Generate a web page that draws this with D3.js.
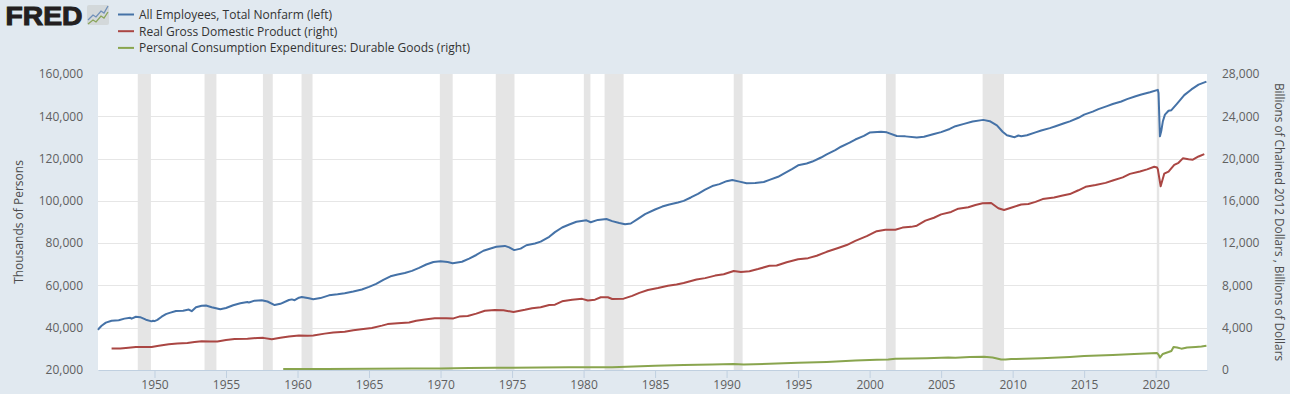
<!DOCTYPE html>
<html><head><meta charset="utf-8">
<script src="https://cdnjs.cloudflare.com/ajax/libs/d3/7.8.5/d3.min.js"></script>
<style>html,body{margin:0;padding:0;background:#e1e9f0}svg{display:block}text{font-family:"Open Sans",sans-serif}</style>
</head><body><svg id="c" width="1290" height="394"></svg>
<script>
const seriesNames=["All Employees, Total Nonfarm (left)","Real Gross Domestic Product (right)","Personal Consumption Expenditures: Durable Goods (right)"];
const seriesColors=["#4572a7","#aa4643","#89a54e"];
const leftTicks=[20000,40000,60000,80000,100000,120000,140000,160000];
const rightTicks=[0,4000,8000,12000,16000,20000,24000,28000];
const xTicks=[1950,1955,1960,1965,1970,1975,1980,1985,1990,1995,2000,2005,2010,2015,2020];
const recessions=[[1948.83,1949.75],[1953.5,1954.33],[1957.58,1958.27],[1960.28,1961.05],[1969.95,1970.85],[1973.86,1975.17],[1980.02,1980.48],[1981.47,1982.8],[1990.5,1991.12],[2001.14,2001.82],[2007.9,2009.4],[2020.08,2020.25]];
const employees=[[1946.05,39000],[1946.15,39900],[1946.3,40900],[1946.6,42400],[1947,43300],[1947.5,43500],[1947.9,44300],[1948.3,44700],[1948.4,44300],[1948.7,45200],[1949,45000],[1949.4,43800],[1949.8,43000],[1949.9,43300],[1950,43100],[1950.2,43700],[1950.5,45200],[1950.8,46400],[1951,46900],[1951.5,47900],[1952,48000],[1952.4,48600],[1952.6,47800],[1952.9,49700],[1953.3,50400],[1953.6,50500],[1954,49700],[1954.6,48700],[1955,49300],[1955.5,50600],[1956,51600],[1956.5,52200],[1956.6,51900],[1957,52800],[1957.5,53000],[1957.9,52400],[1958.4,50700],[1958.8,51300],[1959.4,53100],[1959.6,53400],[1959.8,53000],[1960.1,54200],[1960.3,54500],[1960.8,53900],[1961.1,53500],[1961.6,54000],[1962.2,55300],[1962.8,55800],[1963.3,56300],[1963.9,57100],[1964.5,58100],[1965,59300],[1965.5,60700],[1966,62600],[1966.5,64300],[1967,65200],[1967.5,65900],[1968,66900],[1968.5,68300],[1969,69900],[1969.5,71100],[1970,71400],[1970.5,71100],[1970.85,70500],[1971.5,71200],[1972,72700],[1972.5,74400],[1973,76400],[1973.5,77500],[1973.9,78300],[1974.5,78700],[1974.8,78000],[1975.15,76700],[1975.6,77400],[1976,79000],[1976.6,79800],[1977,80700],[1977.6,83000],[1978,85200],[1978.5,87400],[1979,88800],[1979.5,90100],[1980.2,90800],[1980.5,89900],[1981,91000],[1981.6,91400],[1982,90400],[1982.5,89500],[1982.9,88900],[1983.3,89300],[1983.8,91500],[1984.3,93700],[1985,95900],[1985.5,97300],[1986,98300],[1986.6,99200],[1987,100000],[1987.5,101600],[1988,103300],[1988.5,105300],[1989,107000],[1989.5,107900],[1990,109300],[1990.4,109900],[1990.9,109100],[1991.4,108300],[1992,108400],[1992.6,108900],[1993,109900],[1993.6,111400],[1994,112900],[1994.6,115100],[1995,116800],[1995.6,117700],[1996,118600],[1996.6,120500],[1997,122000],[1997.6,124000],[1998,125600],[1998.6,127500],[1999,129000],[1999.6,130700],[2000,132300],[2000.8,132700],[2001.2,132400],[2001.9,130700],[2002.5,130500],[2003.3,130000],[2003.8,130300],[2004.5,131600],[2005,132500],[2005.6,134000],[2006,135300],[2006.6,136400],[2007.2,137500],[2007.95,138300],[2008.4,137700],[2008.9,135700],[2009.3,132700],[2009.6,131000],[2010,130300],[2010.15,130100],[2010.4,130900],[2010.6,130600],[2011,131000],[2011.6,132400],[2012,133300],[2012.6,134400],[2013,135300],[2013.6,136700],[2014,137600],[2014.6,139300],[2015,140800],[2015.6,142200],[2016,143400],[2016.6,144800],[2017,145800],[2017.6,147000],[2018,148100],[2018.6,149500],[2019,150300],[2019.6,151400],[2020.15,152500],[2020.2,151000],[2020.3,130500],[2020.4,133300],[2020.5,137500],[2020.65,140800],[2020.9,142600],[2021.1,142900],[2021.5,146000],[2022,150000],[2022.5,152700],[2023,155000],[2023.55,156400]];
const gdp=[[1947,2030],[1947.6,2030],[1948,2090],[1948.7,2180],[1949.2,2170],[1949.8,2170],[1950.3,2300],[1951,2440],[1951.6,2510],[1952.3,2560],[1952.8,2640],[1953.3,2730],[1953.9,2700],[1954.4,2690],[1955,2830],[1955.6,2930],[1956.5,2960],[1957.2,3030],[1957.6,3040],[1958.2,2900],[1958.8,3050],[1959.4,3170],[1960.1,3260],[1960.7,3250],[1961.1,3260],[1961.9,3440],[1962.5,3550],[1963.3,3620],[1963.9,3760],[1964.6,3880],[1965.2,3980],[1965.9,4200],[1966.3,4340],[1967,4430],[1967.8,4500],[1968.3,4660],[1968.9,4780],[1969.6,4890],[1970.4,4900],[1970.9,4880],[1971.3,5050],[1971.9,5100],[1972.5,5330],[1973.1,5610],[1973.8,5680],[1974.4,5650],[1975.1,5480],[1975.9,5690],[1976.4,5840],[1977,5930],[1977.6,6150],[1978,6180],[1978.5,6500],[1979.2,6640],[1979.9,6730],[1980.3,6580],[1980.8,6650],[1981.2,6880],[1981.7,6880],[1982,6720],[1982.8,6750],[1983.4,7010],[1983.9,7300],[1984.5,7570],[1985.2,7750],[1985.9,7970],[1986.5,8090],[1987,8230],[1987.9,8560],[1988.5,8690],[1989.2,8930],[1989.8,9060],[1990.5,9370],[1991,9260],[1991.6,9340],[1992.2,9550],[1993,9860],[1993.5,9880],[1994.2,10190],[1995,10470],[1995.7,10580],[1996.3,10810],[1997,11180],[1997.8,11540],[1998.4,11820],[1999,12210],[1999.8,12660],[2000.5,13130],[2001.1,13260],[2001.8,13270],[2002.3,13470],[2002.9,13540],[2003.3,13650],[2003.9,14130],[2004.5,14400],[2005,14720],[2005.7,14950],[2006.2,15260],[2006.9,15400],[2007.4,15610],[2007.9,15770],[2008.5,15800],[2009,15300],[2009.4,15140],[2010,15400],[2010.6,15650],[2011.1,15700],[2011.6,15900],[2012.1,16170],[2012.9,16310],[2013.5,16500],[2014,16640],[2014.6,17000],[2015.1,17330],[2015.8,17500],[2016.5,17700],[2017,17920],[2017.7,18220],[2018.2,18550],[2018.9,18780],[2019.4,18980],[2019.9,19220],[2020.1,19150],[2020.15,19000],[2020.35,17380],[2020.6,18570],[2020.9,18770],[2021.3,19400],[2021.6,19600],[2021.9,20020],[2022.3,19930],[2022.6,19890],[2023,20200],[2023.4,20420]];
const durables=[[1959,90],[1962,100],[1965,130],[1968,140],[1970,150],[1972,190],[1973.8,220],[1975,210],[1977,240],[1979,260],[1980.2,255],[1982,270],[1983,300],[1985,400],[1987,470],[1989,530],[1990.5,560],[1991.2,530],[1993,590],[1995,680],[1997,760],[1999,890],[2000.5,970],[2001.3,1000],[2001.8,1060],[2003,1080],[2004,1120],[2005.5,1190],[2006,1170],[2007,1240],[2008,1260],[2008.6,1180],[2009.2,990],[2009.5,990],[2009.9,1050],[2010.1,1030],[2012,1110],[2014,1230],[2015,1320],[2017,1430],[2018.5,1510],[2020.1,1600],[2020.2,1450],[2020.3,1170],[2020.5,1520],[2020.9,1700],[2021.1,1800],[2021.25,2180],[2021.5,2130],[2021.8,2020],[2022.2,2120],[2022.8,2180],[2023.2,2230],[2023.55,2290]];

const svg=d3.select("#c");
const W={l:98,r:1207,t:74,b:370};
const x=d3.scaleLinear().domain([1946.05,2023.59]).range([W.l,W.r]);
const yL=d3.scaleLinear().domain([20000,160000]).range([W.b,W.t]);
const yR=d3.scaleLinear().domain([0,28000]).range([W.b,W.t]);
const fmt=d3.format(",");
svg.append("rect").attr("x",W.l).attr("y",W.t).attr("width",W.r-W.l).attr("height",W.b-W.t).attr("fill","#fff");
svg.append("g").selectAll("line").data(leftTicks.slice(1,-1)).join("line")
 .attr("x1",W.l).attr("x2",W.r).attr("y1",d=>Math.round(yL(d))+.5).attr("y2",d=>Math.round(yL(d))+.5).attr("stroke","#e6e6e6").attr("stroke-width",1);
svg.append("g").selectAll("rect").data(recessions).join("rect")
 .attr("x",d=>x(d[0])).attr("width",d=>x(d[1])-x(d[0])).attr("y",W.t).attr("height",W.b-W.t).attr("fill","#e5e5e5");
const gx=svg.append("g").attr("transform",`translate(0,${W.b})`).call(d3.axisBottom(x).tickValues(xTicks).tickFormat(d3.format("d")).tickSize(0).tickPadding(10));
gx.select(".domain").attr("stroke","#c0d0e0");
gx.selectAll("text").attr("font-size",12).attr("fill","#606060");
gx.selectAll(".tick").append("line").attr("y1",0).attr("y2",8).attr("stroke","#c0d0e0");
const gl=svg.append("g").attr("transform",`translate(${W.l},0)`).call(d3.axisLeft(yL).tickValues(leftTicks).tickFormat(fmt).tickSize(0).tickPadding(15));
gl.select(".domain").remove();gl.selectAll("text").attr("font-size",12).attr("fill","#606060");
const gr=svg.append("g").attr("transform",`translate(${W.r},0)`).call(d3.axisRight(yR).tickValues(rightTicks).tickFormat(fmt).tickSize(0).tickPadding(15));
gr.select(".domain").remove();gr.selectAll("text").attr("font-size",12).attr("fill","#606060");
const lineL=d3.line().x(d=>x(d[0])).y(d=>yL(d[1]));
const lineR=d3.line().x(d=>x(d[0])).y(d=>yR(d[1]));
const ln=(data,gen,c)=>svg.append("path").attr("d",gen(data)).attr("fill","none").attr("stroke",c).attr("stroke-width",2).attr("stroke-linejoin","round");
ln(employees,lineL,seriesColors[0]);
ln(gdp,lineR,seriesColors[1]);
ln(durables,lineR,seriesColors[2]);
svg.append("text").attr("transform","translate(23,222) rotate(-90)").attr("text-anchor","middle").attr("font-size",12).attr("fill","#4d4d4d").text("Thousands of Persons");
svg.append("text").attr("transform","translate(1274.5,222) rotate(90)").attr("text-anchor","middle").attr("font-size",11.8).attr("fill","#4d4d4d").text("Billions of Chained 2012 Dollars , Billions of Dollars");
const lg=svg.append("g").selectAll("g").data(seriesNames).join("g").attr("transform",(d,i)=>`translate(118,${14.5+i*16.7})`);
lg.append("line").attr("x1",0).attr("x2",16).attr("stroke",(d,i)=>seriesColors[i]).attr("stroke-width",2);
lg.append("text").attr("x",21).attr("y",4.5).attr("font-size",12).attr("fill","#333").text(d=>d);
svg.append("text").attr("x",5.5).attr("y",24.5).attr("textLength",77).attr("lengthAdjust","spacingAndGlyphs").attr("style","font-family:'Liberation Sans';font-weight:700;font-size:25px").attr("fill","#231f20").attr("stroke","#231f20").attr("stroke-width",1).text("FRED");
const ic=svg.append("g").attr("transform","translate(87,5)");
ic.append("rect").attr("width",22).attr("height",20).attr("rx",2).attr("fill","#d3d8da");
ic.append("path").attr("d","M1,15L6,10L9,12L14,6L17,8L21,1").attr("fill","none").attr("stroke","#6f8fb8").attr("stroke-width",1.3);
ic.append("path").attr("d","M1,19L6,15L9,17L14,11L17,13L21,7").attr("fill","none").attr("stroke","#8aa55a").attr("stroke-width",1.3);
</script></body></html>
